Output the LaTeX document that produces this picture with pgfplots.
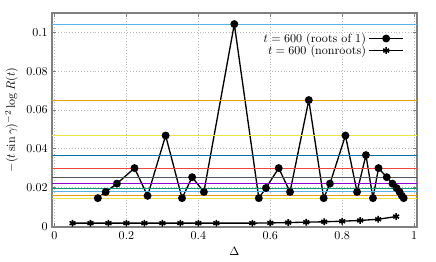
\documentclass[border=0pt]{standalone}
\usepackage{pgfplots}
\pgfplotsset{compat=1.18}
\definecolor{cA}{RGB}{86,180,233}
\definecolor{cB}{RGB}{230,159,0}
\definecolor{cC}{RGB}{240,228,66}
\definecolor{cD}{RGB}{0,114,178}
\definecolor{cE}{RGB}{240,70,55}
\definecolor{cF}{RGB}{85,85,85}
\definecolor{cG}{RGB}{148,0,211}
\definecolor{cH}{RGB}{0,158,115}
\begin{document}
\begin{tikzpicture}
\begin{axis}[
  scale only axis,
  width=302.6pt, height=177.4pt,
  xmin=-0.007, xmax=1.008,
  ymin=-0.0004, ymax=0.11,
  xtick={0,0.2,0.4,0.6,0.8,1},
  ytick={0,0.02,0.04,0.06,0.08,0.1},
  scaled y ticks=false, scaled x ticks=false,
  yticklabel style={/pgf/number format/fixed,/pgf/number format/precision=2},
  xticklabel style={/pgf/number format/fixed,/pgf/number format/precision=1},
  grid=major,
  major grid style={dotted, gray!55},
  axis line style={gray, line width=1.1pt},
  tick style={gray, line width=0.5pt},
  major tick length=3pt,
  xlabel={$\Delta$},
  ylabel={$-(t\sin\gamma)^{-2}\log R(t)$},
  legend style={at={(0.975,0.93)}, anchor=north east, draw=none, fill=none, row sep=-3pt},
  legend cell align=right,
  legend plot pos=right,
  legend image code/.code={\draw[mark repeat=2,mark phase=2] plot coordinates {(0cm,0cm) (0.5cm,0cm) (1.0cm,0cm)};},
]
\addplot[black, line width=1.1pt, mark=*, mark size=2.7pt] coordinates {
(0.1205,0.0145) (0.1423,0.0177) (0.1736,0.0220) (0.2225,0.0300) (0.2588,0.0157)
(0.3090,0.0468) (0.3546,0.0145) (0.3827,0.0253) (0.4154,0.0177) (0.5,0.1043)
(0.5681,0.0145) (0.5878,0.0197) (0.6235,0.0300) (0.6549,0.0177) (0.7071,0.0651)
(0.7485,0.0145) (0.7660,0.0220) (0.8090,0.0468) (0.8413,0.0177) (0.8660,0.0367)
(0.8855,0.0145) (0.9010,0.0300) (0.9239,0.0253) (0.9397,0.0220) (0.9511,0.0197)
(0.9595,0.0177) (0.9659,0.0157) (0.9709,0.0145)
};
\addlegendentry{$t=600$ (roots of 1)}
\addplot[black, line width=1.1pt, mark=asterisk, mark size=2.8pt, mark options={line width=1.3pt}] coordinates {
(0.05,0.0016) (0.10,0.0016) (0.15,0.0016) (0.20,0.0016) (0.25,0.0016) (0.30,0.0016)
(0.35,0.0016) (0.40,0.0016) (0.45,0.0016) (0.55,0.0016) (0.60,0.0017) (0.65,0.0019)
(0.70,0.0021) (0.75,0.0023) (0.80,0.0026) (0.85,0.0030) (0.90,0.0036) (0.95,0.0050)
};
\addlegendentry{$t=600$ (nonroots)}
\addplot[cA, line width=0.9pt, forget plot] coordinates {(-0.01,0.1043) (1.01,0.1043)};
\addplot[cB, line width=0.9pt, forget plot] coordinates {(-0.01,0.0651) (1.01,0.0651)};
\addplot[cC, line width=0.9pt, forget plot] coordinates {(-0.01,0.0468) (1.01,0.0468)};
\addplot[cD, line width=0.9pt, forget plot] coordinates {(-0.01,0.0367) (1.01,0.0367)};
\addplot[cE, line width=0.9pt, forget plot] coordinates {(-0.01,0.0300) (1.01,0.0300)};
\addplot[cF, line width=0.9pt, forget plot] coordinates {(-0.01,0.0253) (1.01,0.0253)};
\addplot[cG, line width=0.9pt, forget plot] coordinates {(-0.01,0.0220) (1.01,0.0220)};
\addplot[cH, line width=0.9pt, forget plot] coordinates {(-0.01,0.0197) (1.01,0.0197)};
\addplot[cA, line width=0.9pt, forget plot] coordinates {(-0.01,0.0177) (1.01,0.0177)};
\addplot[cB, line width=0.9pt, forget plot] coordinates {(-0.01,0.0157) (1.01,0.0157)};
\addplot[cC, line width=0.9pt, forget plot] coordinates {(-0.01,0.0145) (1.01,0.0145)};
\end{axis}
\path ([shift={(-43.1pt,-29pt)}]current axis.south west) rectangle ([shift={(15.75pt,10.8pt)}]current axis.north east);
\end{tikzpicture}
\end{document}
